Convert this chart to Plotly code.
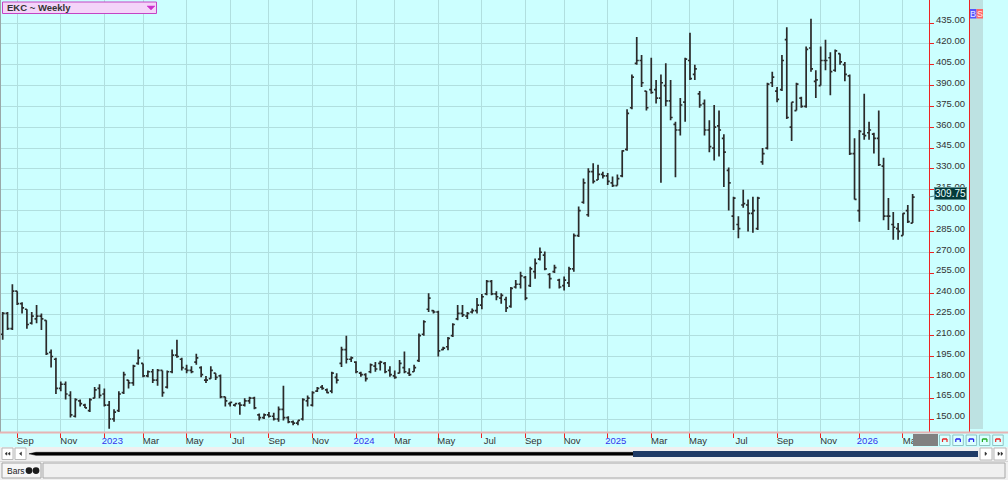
import plotly.graph_objects as go
import pandas as pd

# ---------------- data ----------------
title_text = "EKC ~ Weekly"
first_week = "2022-08-08"

opens = [211, 226, 215, 242, 233, 229, 219, 222, 224, 221, 198, 193, 172, 175, 167, 152, 163, 160, 156, 165,
         172, 168, 160, 150, 156, 169, 178, 176, 190, 190, 181, 184, 178, 185, 173, 184, 196, 193, 186, 185,
         191, 187, 178, 179, 183, 181, 166, 161, 160, 161, 160, 163, 165, 153, 151, 153, 152, 150, 157, 151,
         148, 147, 150, 163, 160, 170, 173, 171, 170, 180, 190, 200, 193, 191, 183, 182, 184, 188, 190, 190,
         185, 181, 183, 187, 183, 184, 192, 211, 229, 228, 227, 200, 202, 210, 222, 226, 224, 227, 228, 232,
         240, 249, 240, 237, 236, 231, 245, 247, 252, 246, 256, 265, 268, 254, 256, 250, 246, 248, 258, 282,
         306, 297, 328, 322, 326, 325, 320, 318, 325, 344, 374, 406, 408, 386, 387, 387, 381, 390, 379, 362,
         358, 378, 408, 398, 384, 377, 358, 345, 361, 352, 329, 296, 290, 304, 304, 298, 287, 335, 345, 392,
         386, 387, 423, 360, 372, 381, 375, 417, 393, 390, 408, 410, 401, 413, 405, 397, 341, 300, 355, 356,
         355, 352, 332, 296, 290, 287, 282, 300, 291]
highs = [227, 227, 247, 242, 234, 229, 227, 232, 226, 221, 200, 194, 177, 177, 170, 165, 164, 161, 165, 173,
         175, 172, 163, 157, 170, 184, 178, 189, 200, 190, 185, 186, 186, 185, 185, 200, 207, 194, 189, 188,
         197, 188, 181, 188, 183, 182, 166, 162.5, 161, 162, 165, 166, 166, 154, 154, 155, 154.5, 159, 174, 152,
         149, 149, 165, 167, 170, 173, 174.5, 172, 184, 183, 202, 210, 195, 191.5, 184, 183, 190, 191, 192, 191,
         188, 185, 192.5, 198.5, 186.5, 189, 211.5, 221, 240.5, 228.5, 228, 202, 209, 219, 232, 232, 227, 229.5, 237, 240,
         250, 250, 242, 240.5, 238, 245, 250, 256, 253, 259.5, 265.5, 273.5, 270.5, 255, 261, 251, 252.5, 259.5, 283.5, 303,
         323, 330.5, 334, 333, 328, 327, 324.5, 326, 343.5, 373, 398, 425, 412, 386, 410, 394, 398, 406, 394, 364,
         381, 410, 428, 405, 386, 380, 365, 376, 372, 355, 331, 310, 296, 315, 308, 310, 310, 345, 392, 400,
         389, 412, 432, 378, 392, 382, 418, 438, 401, 418, 423, 414, 416, 413, 407, 398, 352, 358, 384, 364,
         356, 372, 338, 309, 299, 291, 298, 304, 312]
lows = [207, 214, 214, 232, 226, 215, 218, 219, 214, 196, 187, 168, 170, 164, 151, 151, 159, 158, 155, 165,
        165, 159, 143, 148, 155, 168, 172, 174, 189, 180, 180, 176, 174, 166, 172, 183, 194, 185, 183, 183,
        189, 180, 176, 179, 178, 165, 159, 159, 159, 153, 159, 161, 157, 149, 150, 151, 149, 148, 149, 147,
        145.5, 145.5, 149, 159, 159, 169.5, 171, 168.5, 168.5, 175.5, 187.5, 190, 191, 183, 180.5, 177, 183, 184, 185, 183,
        180.5, 179, 183, 183, 181, 184, 191, 210, 227, 226, 195, 199.5, 199.5, 209, 221, 223.5, 222, 226, 226, 229,
        239, 239, 235.5, 233, 227, 230, 244, 244, 235.5, 245, 251, 264, 257, 244, 255, 244, 242.5, 245, 256, 281,
        305, 295.5, 319.5, 322, 323, 318.5, 317, 318, 324, 343, 373, 405, 389, 372, 384, 377, 320, 375, 365, 324,
        354, 364, 394, 394, 374, 354, 342, 336, 339, 317, 300, 286, 280, 302, 285, 284, 286, 333, 344, 389,
        378, 386, 366, 350, 372, 374, 374, 400, 381, 390, 401, 383, 400, 405, 393, 340, 308, 292, 351, 351,
        341, 332, 293, 286, 279, 279, 282, 291, 291]
closes = [226, 215, 242, 233, 230, 218, 224, 224, 222, 197, 195, 172, 175, 168, 153, 164, 161, 158, 164, 171,
          167, 160, 150, 155, 168, 182, 176, 188, 194, 181, 184, 178, 185, 169, 184, 196, 195, 187, 185, 184,
          194, 182, 178, 185, 180, 166, 163, 162, 161, 160, 163, 165, 158, 151, 153, 152, 150, 157, 151, 148,
          147, 149, 164, 165, 169, 172, 172, 169, 183, 178, 200, 193, 194, 184, 182, 179, 189, 186, 191, 184,
          182, 180, 190, 184, 182, 187, 210, 220, 237, 227, 199, 201, 208, 218, 226, 225, 226, 228, 232, 238,
          249, 240, 238, 239, 230, 244, 247, 253, 237, 258, 262, 270, 258, 251, 259, 245, 250, 258, 282, 300,
          320, 328, 321, 326, 325, 321, 318, 323, 343, 370, 396, 408, 392, 374, 385, 381, 392, 379, 367, 358,
          376, 409, 395, 402, 376, 358, 346, 360, 358, 342, 320, 309, 287, 305, 298, 300, 309, 341, 391, 396,
          380, 408, 367, 378, 391, 375, 416, 402, 394, 408, 408, 400, 415, 407, 398, 341, 308, 357, 354, 358,
          352, 333, 296, 296, 288, 285, 298, 292, 309.75]

month_tick_dates = ["2022-08-29", "2022-10-31", "2023-01-02", "2023-02-27", "2023-05-01", "2023-07-03",
                    "2023-08-28", "2023-10-30", "2024-01-01", "2024-02-26", "2024-04-29", "2024-07-01",
                    "2024-09-02", "2024-10-28", "2024-12-30", "2025-03-03", "2025-04-28", "2025-06-30",
                    "2025-09-01", "2025-11-03", "2025-12-29", "2026-03-02"]
month_tick_labels = ["Sep", "Nov", "2023", "Mar", "May", "Jul", "Sep", "Nov", "2024", "Mar", "May", "Jul",
                     "Sep", "Nov", "2025", "Mar", "May", "Jul", "Sep", "Nov", "2026", "Mar"]
price_ticks = list(range(150, 436, 15))

# ---------------- layout geometry ----------------
W, H = 1008, 480
PLOT_W, PLOT_H = 929, 432
px_per_day = 4.84 / 7.0

dates = pd.date_range(first_week, periods=len(closes), freq="7D")
x0 = dates[0] - pd.Timedelta(days=2.7 / px_per_day)
x1 = x0 + pd.Timedelta(days=PLOT_W / px_per_day)
y_top = 435 + 23 / 1.3895
y_bot = 435 - (PLOT_H - 23) / 1.3895


def PX(x):
    return x / PLOT_W


def PY(y):
    return 1 - y / PLOT_H


FONT = "Liberation Sans, Arial, sans-serif"
BG = "#ccffff"
GRID = "#b0dfdf"

ticktext_x = [("<span style='color:#3333ee'>%s</span>" % t) if t.isdigit() else t for t in month_tick_labels]

fig = go.Figure()
fig.add_trace(go.Ohlc(
    x=dates, open=opens, high=highs, low=lows, close=closes,
    increasing=dict(line=dict(color="#2a2a2a", width=1.7)),
    decreasing=dict(line=dict(color="#2a2a2a", width=1.7)),
    tickwidth=0.42, showlegend=False, hoverinfo="x+y",
))

shapes = []


def rect(xa, ya, xb, yb, fill, line=None, lw=1, layer="above"):
    shapes.append(dict(type="rect", xref="paper", yref="paper", x0=PX(xa), x1=PX(xb), y0=PY(yb), y1=PY(ya),
                       fillcolor=fill, line=dict(color=line or fill, width=lw if line else 0), layer=layer))


def seg(xa, ya, xb, yb, color, lw=1):
    shapes.append(dict(type="line", xref="paper", yref="paper", x0=PX(xa), x1=PX(xb), y0=PY(ya), y1=PY(yb),
                       line=dict(color=color, width=lw), layer="above"))


def path(pts, fill):
    d = "M " + " L ".join("%f,%f" % (PX(a), PY(b)) for a, b in pts) + " Z"
    shapes.append(dict(type="path", xref="paper", yref="paper", path=d, fillcolor=fill,
                       line=dict(color=fill, width=0.5), layer="above"))


# right grey strip and red border line
rect(970, 0, 983, 429, "#bde2e2")
seg(969.5, 0, 969.5, 433, "#ee2222", 1)
seg(0.5, 0, 0.5, 432, "#9aa8a8", 1)
# x-axis pink band line
seg(0, 432.5, W, 432.5, "#e6b4b4", 2)
# grey box on axis + buttons
rect(913, 434, 938, 446, "#808080")
btn_x = [939.5, 952.8, 966.1, 979.4, 992.7]
btn_col = ["#ee2222", "#2222ee", "#2222ee", "#22aa22", "#ee2222"]
for bx, bc in zip(btn_x, btn_col):
    rect(bx, 435, bx + 10.5, 445.5, "#dcffff", "#8fc4c4", 1)
    seg(bx + 3, 439, bx + 7.5, 439, bc, 1.5)
    seg(bx + 3, 439, bx + 3, 442, bc, 1.2)
    seg(bx + 7.5, 439, bx + 7.5, 442, bc, 1.2)
# scrollbar row
rect(0, 447, W, 461, "#f0f0f0")
for bx in (2, 15):
    rect(bx, 448, bx + 11, 459.5, "#ffffff", "#b8b8b8", 1)
path([(5, 453.7), (7, 452.2), (7, 455.2)], "#333333")
path([(8, 453.7), (10, 452.2), (10, 455.2)], "#333333")
path([(19.5, 453.7), (21.5, 452), (21.5, 455.4)], "#333333")
path([(29, 453.8), (36, 452.3), (975, 452.3), (975, 455.3), (36, 455.3)], "#000000")
rect(633, 451, 978, 457, "#1f3b66")
for bx in (980, 994):
    rect(bx, 448, bx + 12, 460, "#ffffff", "#b8b8b8", 1)
path([(985, 452), (987, 453.7), (985, 455.4)], "#333333")
path([(998, 452), (1000, 453.7), (998, 455.4)], "#333333")
path([(1001, 452), (1003, 453.7), (1001, 455.4)], "#333333")
# bottom panel
rect(0, 461, W, H, "#f0f0f0")
seg(0, 461.5, W, 461.5, "#d6d6d6", 1)
rect(2, 463, 41, 478, "#f6f6f6", "#a4a4a4", 1)
for cx in (29, 36):
    shapes.append(dict(type="circle", xref="paper", yref="paper", x0=PX(cx - 3.4), x1=PX(cx + 3.4),
                       y0=PY(474), y1=PY(467.2), fillcolor="#1c1c1c", line=dict(width=0), layer="above"))
rect(43, 463, 1005, 478, "#f0f0f0", "#a8a8a8", 1)
# title box
rect(2.5, 2, 156.5, 13.5, "#f4d4f9", "#c444c4", 1)
path([(147, 6), (155, 6), (151, 10)], "#cc33cc")
# B / S boxes
rect(970, 9, 976.5, 18.5, "#5555ff")
rect(976.5, 9, 983, 18.5, "#ff6868")

annotations = [
    dict(xref="paper", yref="paper", x=PX(5), y=PY(7.9), text="<b>%s</b>" % title_text, showarrow=False,
         xanchor="left", yanchor="middle", font=dict(family=FONT, size=9.5, color="#333333")),
    dict(xref="paper", yref="paper", x=PX(5), y=PY(470.5), text="Bars", showarrow=False,
         xanchor="left", yanchor="middle", font=dict(family=FONT, size=8.5, color="#222222")),
    dict(xref="paper", yref="paper", x=PX(973.3), y=PY(13.8), text="B", showarrow=False,
         xanchor="center", yanchor="middle", font=dict(family=FONT, size=9, color="#e8e8ff")),
    dict(xref="paper", yref="paper", x=PX(979.8), y=PY(13.8), text="S", showarrow=False,
         xanchor="center", yanchor="middle", font=dict(family=FONT, size=9, color="#ffe8e8")),
    dict(xref="paper", yref="y", x=1.0, y=closes[-1], text="%.2f" % closes[-1], showarrow=True,
         arrowhead=0, arrowwidth=1, arrowcolor="#4d7f7f", ax=21, ay=-4, xanchor="center",
         bgcolor="#033a3a", bordercolor="#5f8f8f", borderwidth=1, borderpad=0,
         font=dict(family=FONT, size=10, color="#e8ffff")),
]

fig.update_layout(
    width=W, height=H,
    margin=dict(l=0, r=W - PLOT_W, t=0, b=H - PLOT_H, pad=0),
    paper_bgcolor=BG, plot_bgcolor=BG,
    showlegend=False,
    shapes=shapes, annotations=annotations,
    xaxis=dict(
        type="date", range=[x0, x1], rangeslider=dict(visible=False),
        tickmode="array", tickvals=month_tick_dates, ticktext=ticktext_x,
        showgrid=True, gridcolor=GRID, gridwidth=1, zeroline=False, showline=False,
        ticks="outside", ticklen=5, tickcolor="#ee2222", tickwidth=1,
        tickfont=dict(family=FONT, size=9.5, color="#333333"), ticklabelshift=8,
        ticklabelstandoff=-5,
        fixedrange=True,
    ),
    yaxis=dict(
        side="right", range=[y_bot, y_top],
        tickmode="array", tickvals=price_ticks, ticktext=["%.2f" % v for v in price_ticks],
        showgrid=True, gridcolor=GRID, gridwidth=1, zeroline=False,
        showline=True, linecolor="#ee2222", linewidth=1,
        ticks="outside", ticklen=4, tickcolor="#ee2222", tickwidth=1,
        tickfont=dict(family=FONT, size=9.5, color="#333333"), ticklabelshift=-3,
        fixedrange=True,
    ),
)

fig.write_html("out.html", config={"displayModeBar": False},
               post_script="document.body.style.margin='0';document.body.style.overflow='hidden';")
